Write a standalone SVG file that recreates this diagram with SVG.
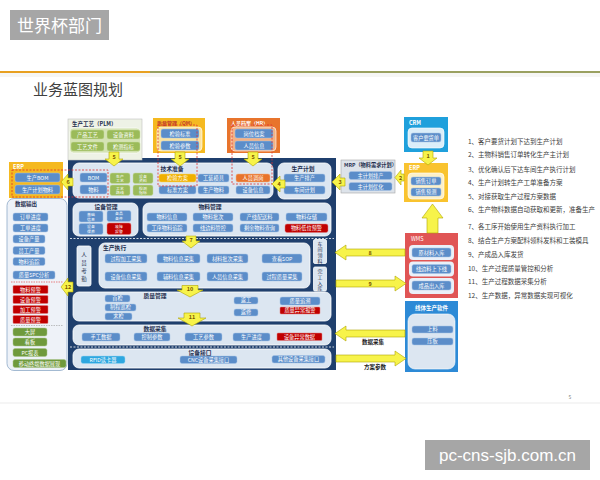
<svg xmlns="http://www.w3.org/2000/svg" width="600" height="480" viewBox="0 0 600 480">
<style>
text{font-family:"Noto Sans CJK SC","Noto Sans",sans-serif}
.bx{fill:#5b8dc9;stroke:#a9c4e6;stroke-width:0.5}
.gr{fill:#9bbb59;stroke:#c9dca3;stroke-width:0.5}
.dg{fill:#6f9a3c;stroke:#a9c48a;stroke-width:0.5}
.rd{fill:#c00000;stroke:#e08080;stroke-width:0.5}
.og{fill:#f0b000;stroke:#f8d870;stroke-width:0.5}
.oo{fill:#e8742c;stroke:#f4b183;stroke-width:0.5}
.cy{fill:#2ea7e0;stroke:#9dd6f2;stroke-width:0.5}
.pn{fill:#dce6f1;stroke:#ffffff;stroke-width:0.8}
.t{font-size:5.2px;fill:#ffffff;text-anchor:middle}
.t2{font-size:3.9px;fill:#ffffff;text-anchor:middle}
.h{font-size:5.8px;fill:#1f2f4f;font-weight:bold;text-anchor:middle}
.ar{fill:#f7f34a;stroke:#b0a400;stroke-width:0.6}
.an{font-size:5.5px;fill:#7a5600;text-anchor:middle;font-weight:bold}
.ls{font-size:6.5px;fill:#404040}
.rdash{fill:none;stroke:#e03030;stroke-width:0.8;stroke-dasharray:2 1.5}
</style>

<!-- header -->
<g id="header">
<rect x="10" y="10" width="99" height="30" fill="#a6a6a6"/>
<text x="59.5" y="31.5" font-size="17" fill="#ffffff" text-anchor="middle">世界杯部门</text>
<rect x="0" y="71" width="150" height="2" fill="#e8a020"/>
<rect x="150" y="71" width="450" height="2" fill="#9aa060"/>
<rect x="0" y="73" width="600" height="4" fill="#f6f6f4"/>
<text x="33" y="95" font-size="15" fill="#404040">业务蓝图规划</text>
<rect x="0" y="402.5" width="600" height="1" fill="#ececec"/>
<text x="570" y="399" font-size="5" fill="#808080" text-anchor="middle">5</text>
</g>

<!-- main frame -->
<g id="main-frame">
<rect x="68" y="158" width="268" height="212" fill="#1f3f6d"/>
<line x1="70" y1="238.5" x2="334" y2="238.5" stroke="#ffffff" stroke-width="0.8" stroke-dasharray="2 1.5"/>
<line x1="70" y1="347" x2="334" y2="347" stroke="#ffffff" stroke-width="0.8" stroke-dasharray="2 1.5"/>
</g>

<!-- PLM -->
<g id="plm">
<rect x="68" y="119" width="74" height="41" fill="#eef2e6" stroke="#bfbfbf" stroke-width="0.6"/>
<text x="72" y="126" font-size="5.5" fill="#1f2f4f" font-weight="bold">生产工艺（PLM）</text>
<rect x="69.5" y="128" width="71" height="25" rx="4" fill="#d5e3b5" stroke="#ffffff" stroke-width="0.6"/>
<rect class="gr" x="71" y="130" width="33" height="9" rx="2"/><text class="t" x="87.5" y="136.5">产品工艺</text>
<rect class="gr" x="107" y="130" width="33" height="9" rx="2"/><text class="t" x="123.5" y="136.5">设备资料</text>
<rect class="gr" x="71" y="142" width="33" height="9" rx="2"/><text class="t" x="87.5" y="148.5">工艺文件</text>
<rect class="gr" x="107" y="142" width="33" height="9" rx="2"/><text class="t" x="123.5" y="148.5">检测指标</text>
</g>

<!-- QM -->
<g id="qm">
<rect x="153" y="118" width="52" height="35" fill="#f5b920"/>
<text x="157" y="124.5" font-size="5" fill="#c0392b" font-weight="bold">质量管理（QM）</text>
<rect x="157" y="127" width="45" height="24" rx="4" fill="#fbe3a0" stroke="#ffffff" stroke-width="0.6"/>
<rect class="bx" x="161" y="129" width="38" height="9" rx="2"/><text class="t" x="180" y="135.5">检验标准</text>
<rect class="bx" x="161" y="141" width="38" height="9" rx="2"/><text class="t" x="180" y="147.5">检验参数</text>
</g>

<!-- HR -->
<g id="hr">
<rect x="227" y="118" width="53" height="35" fill="#e8742c"/>
<text x="231" y="124.5" font-size="5" fill="#ffffff" font-weight="bold">人员档案（HR）</text>
<rect x="231" y="127" width="45" height="24" rx="4" fill="#f4b183" stroke="#ffffff" stroke-width="0.6"/>
<rect class="bx" x="235" y="129" width="38" height="9" rx="2"/><text class="t" x="254" y="135.5">岗位档案</text>
<rect class="bx" x="235" y="141" width="38" height="9" rx="2"/><text class="t" x="254" y="147.5">人员信息</text>
</g>

<!-- CRM -->
<g id="crm">
<rect x="404" y="117" width="44" height="35" fill="#1fa0dc"/>
<text x="409" y="124.5" font-size="5.5" fill="#ffffff" font-weight="bold">CRM</text>
<rect x="408" y="128" width="36" height="20" rx="4" fill="#dbeef9" stroke="#ffffff" stroke-width="0.6"/>
<rect class="bx" x="411" y="133" width="30" height="9" rx="2"/><text class="t" x="426" y="139.5">客户要货单</text>
</g>

<!-- ERP right -->
<g id="erp-sales">
<rect x="404" y="163" width="44" height="39" fill="#f9c32f"/>
<text x="409" y="170" font-size="5.5" fill="#ffffff" font-weight="bold">ERP</text>
<rect x="408" y="173" width="36" height="26" rx="4" fill="#fdf0c8" stroke="#ffffff" stroke-width="0.6"/>
<rect class="bx" x="411" y="177" width="30" height="8" rx="2"/><text class="t" x="426" y="183">销售订单</text>
<rect class="bx" x="411" y="188" width="30" height="8" rx="2"/><text class="t" x="426" y="194">销售预测</text>
</g>

<!-- MRP -->
<g id="mrp">
<rect x="341" y="160" width="54" height="33" fill="#dde3ea" stroke="#a6a6a6" stroke-width="0.6"/>
<text x="344" y="167" font-size="5.2" fill="#1f2f4f" font-weight="bold">MRP（物料需求计划）</text>
<rect class="bx" x="349" y="171.5" width="43" height="8" rx="2"/><text class="t" x="370.5" y="177.5">主计划排产</text>
<rect class="bx" x="349" y="182.5" width="43" height="8" rx="2"/><text class="t" x="370.5" y="188.5">主计划优化</text>
</g>

<!-- ERP left -->
<g id="erp-bom">
<rect x="9" y="162" width="54" height="36" fill="#f5b920"/>
<text x="13" y="168.5" font-size="5.5" fill="#ffffff" font-weight="bold">ERP</text>
<rect class="bx" x="15" y="173" width="45" height="9" rx="2"/><text class="t" x="37.5" y="179.5">生产BOM</text>
<rect class="bx" x="15" y="185" width="45" height="9" rx="2"/><text class="t" x="37.5" y="191.5">生产计划物料</text>
</g>

<!-- 技术准备 -->
<g id="tech-prep">
<rect class="pn" x="73" y="163" width="200" height="35" rx="6"/>
<text class="h" x="172" y="170.5">技术准备</text>
<rect class="bx" x="80" y="173" width="27" height="9" rx="2"/><text class="t" x="93.5" y="179.5">BOM</text>
<rect class="bx" x="80" y="185" width="27" height="9" rx="2"/><text class="t" x="93.5" y="191.5">物料</text>
<rect class="gr" x="110" y="173" width="20" height="10.5" rx="2"/><text class="t2" x="120" y="177.6">生产</text><text class="t2" x="120" y="182.4">工艺</text>
<rect class="gr" x="110" y="185" width="20" height="10.5" rx="2"/><text class="t2" x="120" y="189.6">工艺</text><text class="t2" x="120" y="194.4">路线</text>
<rect class="gr" x="133" y="173" width="20" height="10.5" rx="2"/><text class="t2" x="143" y="177.6">设备</text><text class="t2" x="143" y="182.4">资料</text>
<rect class="gr" x="133" y="185" width="20" height="10.5" rx="2"/><text class="t2" x="143" y="189.6">检测</text><text class="t2" x="143" y="194.4">指标</text>
<rect class="og" x="159" y="174" width="37" height="8" rx="2"/><text class="t" x="177.5" y="180">检验方案</text>
<rect class="bx" x="159" y="186" width="37" height="8" rx="2"/><text class="t" x="177.5" y="192">标准方案</text>
<rect class="bx" x="198" y="174" width="31" height="8" rx="2"/><text class="t" x="213.5" y="180">工装模具</text>
<rect class="bx" x="198" y="186" width="31" height="8" rx="2"/><text class="t" x="213.5" y="192">生产物料</text>
<rect class="oo" x="236" y="174" width="34" height="8" rx="2"/><text class="t" x="253" y="180">人员调岗</text>
<rect class="bx" x="236" y="186" width="34" height="8" rx="2"/><text class="t" x="253" y="192">设备信息</text>
</g>

<!-- 生产计划 -->
<g id="prod-plan">
<rect class="pn" x="278" y="163" width="53" height="36" rx="6"/>
<text class="h" x="303" y="170.5">生产计划</text>
<rect class="bx" x="284" y="174" width="41" height="8" rx="2"/><text class="t" x="304.5" y="180">生产排产</text>
<rect class="bx" x="284" y="186" width="41" height="8" rx="2"/><text class="t" x="304.5" y="192">车间计划</text>
</g>

<!-- 设备管理 -->
<g id="equip-mgmt">
<rect class="pn" x="73" y="203" width="65" height="33" rx="6"/>
<text class="h" x="106" y="209">设备管理</text>
<rect class="bx" x="79" y="211" width="24" height="11" rx="2"/><text class="t2" x="91" y="215.8">基础</text><text class="t2" x="91" y="220.6">信息</text>
<rect class="bx" x="107" y="210.5" width="24" height="11" rx="2"/><text class="t2" x="119" y="215.3">备品</text><text class="t2" x="119" y="220.1">备件</text>
<rect class="bx" x="79" y="223.5" width="24" height="11" rx="2"/><text class="t2" x="91" y="228.3">设备</text><text class="t2" x="91" y="233.1">保养</text>
<rect class="rd" x="107" y="223" width="24" height="11.5" rx="2"/><text class="t2" x="119" y="228">故障</text><text class="t2" x="119" y="232.8">报警</text>
</g>

<!-- 物料管理 -->
<g id="material-mgmt">
<rect class="pn" x="143" y="203" width="188" height="33" rx="6"/>
<text class="h" x="210" y="209">物料管理</text>
<rect class="bx" x="147" y="213" width="40" height="8" rx="2"/><text class="t" x="167" y="219">物料信息</text>
<rect class="bx" x="193" y="213" width="40" height="8" rx="2"/><text class="t" x="213" y="219">物料批次</text>
<rect class="bx" x="240" y="213" width="39" height="8" rx="2"/><text class="t" x="259.5" y="219">产线配送料</text>
<rect class="bx" x="286" y="213" width="41" height="8" rx="2"/><text class="t" x="306.5" y="219">物料存储</text>
<rect class="bx" x="147" y="224" width="40" height="8" rx="2"/><text class="t" x="167" y="230">工序物料追踪</text>
<rect class="bx" x="193" y="224" width="40" height="8" rx="2"/><text class="t" x="213" y="230">线边料管控</text>
<rect class="bx" x="240" y="224" width="39" height="8" rx="2"/><text class="t" x="259.5" y="230">剩余物料查询</text>
<rect class="rd" x="285" y="224" width="43" height="8.5" rx="2"/><text class="t" x="306.5" y="230">物料低位预警</text>
</g>

<!-- 人员考勤 -->
<g id="attendance">
<rect class="pn" x="77" y="246" width="14" height="40" rx="2"/>
<text x="84" y="257" font-size="5.5" fill="#1f2f4f" text-anchor="middle">人</text>
<text x="84" y="265" font-size="5.5" fill="#1f2f4f" text-anchor="middle">员</text>
<text x="84" y="273" font-size="5.5" fill="#1f2f4f" text-anchor="middle">考</text>
<text x="84" y="281" font-size="5.5" fill="#1f2f4f" text-anchor="middle">勤</text>
</g>

<!-- 生产执行 -->
<g id="prod-exec">
<rect class="pn" x="99" y="243" width="211" height="45" rx="6"/>
<text x="103" y="249.5" font-size="5.8" fill="#1f2f4f" font-weight="bold">生产执行</text>
<rect class="bx" x="105" y="254" width="42" height="9" rx="2"/><text class="t" x="126" y="260.5">过程加工采集</text>
<rect class="bx" x="157" y="254" width="43" height="9" rx="2"/><text class="t" x="178.5" y="260.5">物料信息采集</text>
<rect class="bx" x="207" y="254" width="41" height="9" rx="2"/><text class="t" x="227.5" y="260.5">材料批次采集</text>
<rect class="bx" x="262" y="254" width="40" height="9" rx="2"/><text class="t" x="282" y="260.5">查看SOP</text>
<rect class="bx" x="105" y="272" width="42" height="9" rx="2"/><text class="t" x="126" y="278.5">设备信息采集</text>
<rect class="bx" x="157" y="272" width="43" height="9" rx="2"/><text class="t" x="178.5" y="278.5">辅料信息采集</text>
<rect class="bx" x="207" y="272" width="41" height="9" rx="2"/><text class="t" x="227.5" y="278.5">人员信息采集</text>
<rect class="bx" x="262" y="272" width="40" height="9" rx="2"/><text class="t" x="282" y="278.5">过程质量采集</text>
</g>

<!-- 车间领料 / 完工入库 -->
<g id="pick-store">
<rect class="pn" x="313.5" y="239.5" width="13" height="24" rx="1.5"/>
<text x="320" y="245.5" font-size="5" fill="#1f2f4f" text-anchor="middle">车</text>
<text x="320" y="251.3" font-size="5" fill="#1f2f4f" text-anchor="middle">间</text>
<text x="320" y="257.1" font-size="5" fill="#1f2f4f" text-anchor="middle">领</text>
<text x="320" y="262.9" font-size="5" fill="#1f2f4f" text-anchor="middle">料</text>
<rect class="pn" x="313.5" y="267" width="13" height="24" rx="1.5"/>
<text x="320" y="273" font-size="5" fill="#1f2f4f" text-anchor="middle">完</text>
<text x="320" y="278.8" font-size="5" fill="#1f2f4f" text-anchor="middle">工</text>
<text x="320" y="284.6" font-size="5" fill="#1f2f4f" text-anchor="middle">入</text>
<text x="320" y="290.4" font-size="5" fill="#1f2f4f" text-anchor="middle">库</text>
</g>

<!-- 质量管理 -->
<g id="quality">
<rect class="pn" x="73" y="292" width="258" height="29" rx="6"/>
<text class="h" x="155" y="298">质量管理</text>
<rect class="bx" x="105" y="295" width="25" height="7" rx="2"/><text class="t" x="117.5" y="300.3">首检</text>
<rect class="bx" x="105" y="304" width="31" height="7" rx="2"/><text class="t" x="120.5" y="309.3">制程巡检</text>
<rect class="bx" x="105" y="313" width="27" height="7" rx="2"/><text class="t" x="118.5" y="318.3">末检</text>
<rect class="bx" x="234" y="297" width="24" height="7" rx="2"/><text class="t" x="246" y="302.3">返工</text>
<rect class="bx" x="234" y="309" width="24" height="7" rx="2"/><text class="t" x="246" y="314.3">返修</text>
<rect class="bx" x="280" y="297" width="40" height="8" rx="2"/><text class="t" x="300" y="303">质量追溯</text>
<rect class="rd" x="280" y="307" width="40" height="7" rx="1"/><text class="t" x="300" y="312.3">质量异常报警</text>
</g>

<!-- 数据采集 -->
<g id="data-collect">
<rect class="pn" x="73" y="325" width="258" height="20" rx="6"/>
<text class="h" x="155" y="330.5">数据采集</text>
<rect class="bx" x="82" y="333" width="38" height="8" rx="2"/><text class="t" x="101" y="339">手工数据</text>
<rect class="bx" x="134" y="333" width="36" height="8" rx="2"/><text class="t" x="152" y="339">控制参数</text>
<rect class="bx" x="185" y="333" width="37" height="8" rx="2"/><text class="t" x="203.5" y="339">工艺参数</text>
<rect class="bx" x="233" y="333" width="37" height="8" rx="2"/><text class="t" x="251.5" y="339">生产进度</text>
<rect class="rd" x="277" y="333" width="45" height="7.5" rx="1"/><text class="t" x="299.5" y="338.8">设备异常数据</text>
</g>

<!-- 设备接口 -->
<g id="equip-if">
<rect class="pn" x="73" y="349" width="258" height="19" rx="6"/>
<text class="h" x="200" y="354.5">设备接口</text>
<rect class="cy" x="81" y="356" width="44" height="7.5" rx="2"/><text class="t" x="103" y="361.8">RFID读卡器</text>
<rect class="bx" x="180" y="356" width="57" height="7.5" rx="2"/><text class="t" x="208.5" y="361.8">CNC设备采集接口</text>
<rect class="bx" x="272" y="355.5" width="53" height="7.5" rx="2"/><text class="t" x="298.5" y="361.3">其他设备采集接口</text>
</g>

<!-- 数据输出 -->
<g id="data-output">
<rect x="7" y="198.5" width="60" height="172" rx="7" fill="#eef2f8" stroke="#8ea9c8" stroke-width="0.8"/>
<text x="15" y="206" font-size="5.5" fill="#1f2f4f" font-weight="bold">数据输出</text>
<rect class="bx" x="13" y="213" width="35" height="8" rx="2"/><text class="t" x="30.5" y="219">订单进度</text>
<rect class="bx" x="13" y="224" width="35" height="8" rx="2"/><text class="t" x="30.5" y="230">工单进度</text>
<rect class="bx" x="13" y="235" width="32" height="8" rx="2"/><text class="t" x="29" y="241">设备产量</text>
<rect class="bx" x="13" y="246.5" width="32" height="8" rx="2"/><text class="t" x="29" y="252.5">员工产量</text>
<rect class="bx" x="13" y="257.5" width="32" height="8" rx="2"/><text class="t" x="29" y="263.5">物料追踪</text>
<rect class="bx" x="13" y="271" width="42" height="8" rx="2"/><text class="t" x="34" y="277">质量SPC分析</text>
<line x1="11" y1="282" x2="63" y2="282" stroke="#e03030" stroke-width="0.6" stroke-dasharray="1.5 1"/>
<rect class="rd" x="13" y="285.5" width="35" height="8" rx="1"/><text class="t" x="30.5" y="291.5">物料预警</text>
<rect class="rd" x="13" y="295.5" width="35" height="8" rx="1"/><text class="t" x="30.5" y="301.5">设备预警</text>
<rect class="rd" x="13" y="305.5" width="35" height="8" rx="1"/><text class="t" x="30.5" y="311.5">加工预警</text>
<rect class="rd" x="13" y="315.5" width="35" height="8" rx="1"/><text class="t" x="30.5" y="321.5">质量预警</text>
<line x1="11" y1="325.5" x2="63" y2="325.5" stroke="#999999" stroke-width="0.6" stroke-dasharray="1.5 1"/>
<rect class="dg" x="13" y="328" width="34" height="8" rx="2"/><text class="t" x="30" y="334">大屏</text>
<rect class="dg" x="13" y="338" width="34" height="8" rx="2"/><text class="t" x="30" y="344">看板</text>
<rect class="dg" x="13" y="348.5" width="34" height="8" rx="2"/><text class="t" x="30" y="354.5">PC报表</text>
<rect class="dg" x="13" y="359.5" width="53" height="8" rx="2"/><text class="t" x="39.5" y="365.5">移动终端数据展现</text>
</g>

<!-- WMS -->
<g id="wms">
<rect x="405" y="233" width="53" height="65" fill="#e05555"/>
<text x="411" y="240.5" font-size="5.5" fill="#ffffff">WMS</text>
<rect x="409" y="245" width="45" height="15" rx="4" fill="#eaf0f8"/>
<rect class="bx" x="412" y="248" width="39" height="9" rx="2"/><text class="t" x="431.5" y="254.5">原材料入库</text>
<rect x="409" y="261.5" width="45" height="15" rx="4" fill="#eaf0f8"/>
<rect class="bx" x="412" y="264.5" width="39" height="9" rx="2"/><text class="t" x="431.5" y="271">线边料上下线</text>
<rect x="409" y="278" width="45" height="16" rx="4" fill="#eaf0f8"/>
<rect class="bx" x="412" y="281" width="39" height="9" rx="2"/><text class="t" x="431.5" y="287.5">成品出入库</text>
</g>

<!-- 线体生产软件 -->
<g id="line-software">
<rect x="405" y="301" width="53" height="71" fill="#2d8ad6"/>
<text x="431.5" y="309.5" font-size="5.5" fill="#ffffff" text-anchor="middle" font-weight="bold">线体生产软件</text>
<rect x="408" y="314" width="47" height="55" rx="7" fill="#dce6f1" stroke="#ffffff" stroke-width="0.6"/>
<rect class="bx" x="412" y="326" width="41" height="7" rx="2"/><text class="t" x="432.5" y="331.3">上料</text>
<rect class="bx" x="412" y="338" width="41" height="7" rx="2"/><text class="t" x="432.5" y="343.3">压板</text>
</g>

<!-- dashed highlight frames -->
<g id="highlights">
<rect class="rdash" x="12" y="170" width="96" height="27"/>
<rect class="rdash" x="158" y="125" width="39" height="61"/>
<rect class="rdash" x="232" y="125" width="40" height="59"/>
</g>

<!-- connectors -->
<g id="connectors">
<path class="ar" d="M109,152 H119 V159 H123 L114,166 L105,159 H109 Z"/><text class="an" x="114" y="159">5</text>
<path class="ar" d="M175,152 H185 V159 H189 L180,166 L171,159 H175 Z"/><text class="an" x="180" y="159">5</text>
<path class="ar" d="M248,152 H258 V159 H262 L253,166 L244,159 H248 Z"/><text class="an" x="253" y="159">5</text>
<path class="ar" d="M423,151 H433 V158 H437 L428,165 L419,158 H423 Z"/><text class="an" x="428" y="158">1</text>
<path class="ar" d="M186,236 H196 V241 H200 L191,248 L182,241 H186 Z"/><text class="an" x="191" y="241.5">7</text>
<path class="ar" d="M182,285.5 H198 V290 H203 L190,297 L177,290 H182 Z"/><text class="an" x="190" y="291">10</text>
<path class="ar" d="M184,313 H200 V318 H206 L192,326 L178,318 H184 Z"/><text class="an" x="192" y="318.5">11</text>
<path class="ar" d="M427,233 V218 H422 L432.5,204 L443,218 H438 V233 Z"/>
<path class="ar" d="M404,174 V181 H401 V185 L395,177.5 L401,170 V174 Z"/><text class="an" x="400.5" y="179.5">2</text>
<path class="ar" d="M345,178 V186 H340 V190 L332,182 L340,174 V178 Z"/><text class="an" x="340" y="184">3</text>
<path class="ar" d="M285,180 V188 H280 V192 L272,184 L280,176 V180 Z"/><text class="an" x="279" y="186">4</text>
<path class="ar" d="M73,178 V186 H68 V190 L61,182 L68,174 V178 Z"/><text class="an" x="68" y="184">6</text>
<path class="ar" d="M73,282 V292 H68 V296 L61,287 L68,278 V282 Z"/><text class="an" x="68" y="289" font-size="4.5">12</text>
<path class="ar" d="M405,249 V256 H346 V260 L335,252.5 L346,245 V249 Z"/><text class="an" x="370" y="254.5">8</text>
<path class="ar" d="M336,280 V287 H395 V291 L406,283.5 L395,276 V280 Z"/><text class="an" x="370" y="285.5">9</text>
<path class="ar" d="M405,330 V337 H346 V341 L335,333.5 L346,326 V330 Z"/>
<text x="373" y="344" font-size="5.5" fill="#1a1a1a" text-anchor="middle" font-weight="bold">数据采集</text>
<path class="ar" d="M336,355 V362 H395 V366 L406,358.5 L395,351 V355 Z"/>
<text x="375" y="369" font-size="5.5" fill="#1a1a1a" text-anchor="middle" font-weight="bold">方案参数</text>
</g>

<!-- step list -->
<g id="steps">
<text class="ls" x="468" y="143.5">1、客户要货计划下达到生产计划</text>
<text class="ls" x="468" y="157">2、主物料销售订单转化生产主计划</text>
<text class="ls" x="468" y="171.5">3、优化确认后下达车间生产执行计划</text>
<text class="ls" x="468" y="185">4、生产计划转生产工单准备方案</text>
<text class="ls" x="468" y="198.5">5、对接获取生产过程方案数据</text>
<text class="ls" x="468" y="212">6、生产物料数据自动获取和更新，准备生产</text>
<text class="ls" x="468" y="228.5">7、各工序开始使用生产资料执行加工</text>
<text class="ls" x="468" y="242.5">8、结合生产方案配料领料发料和工装模具</text>
<text class="ls" x="468" y="256.5">9、产成品入库发货</text>
<text class="ls" x="468" y="270.5">10、生产过程质量管控和分析</text>
<text class="ls" x="468" y="284">11、生产过程数据采集分析</text>
<text class="ls" x="468" y="298">12、生产数据，异常数据实现可视化</text>
</g>

<!-- watermark -->
<g id="watermark">
<rect x="425" y="440" width="165" height="30" fill="#a6a6a6"/>
<text x="507.5" y="461" font-size="17" fill="#ffffff" text-anchor="middle" style="font-family:'Liberation Sans',sans-serif">pc-cns-sjb.com.cn</text>
</g>
</svg>
